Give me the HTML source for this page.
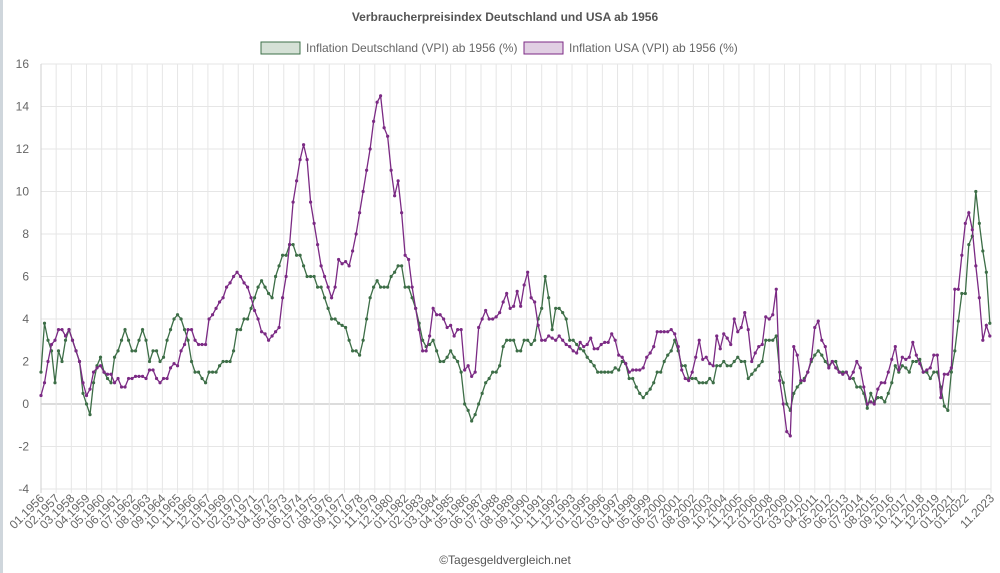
<!DOCTYPE html>
<html><head><meta charset="utf-8"><style>
html,body{margin:0;padding:0;background:#fff;}
svg{display:block;font-family:"Liberation Sans",Arial,sans-serif;}
</style></head><body>
<svg id="chart" width="1000" height="573" viewBox="0 0 1000 573">
<rect x="0" y="0" width="1000" height="573" fill="#fff"/>
<rect x="0" y="0" width="3" height="573" fill="#cfd6dc"/>
<text x="505" y="21" text-anchor="middle" font-size="12" font-weight="bold" fill="#555">Verbraucherpreisindex Deutschland und USA ab 1956</text>
<g>
<g><rect x="261" y="42" width="39" height="12" fill="#d5e1d6" stroke="#3d7048" stroke-width="1"/><text x="306" y="52" font-size="12" fill="#666">Inflation Deutschland (VPI) ab 1956 (%)</text></g>
<g><rect x="524" y="42" width="39" height="12" fill="#e1cfe3" stroke="#7c2a85" stroke-width="1"/><text x="569" y="52" font-size="12" fill="#666">Inflation USA (VPI) ab 1956 (%)</text></g>
</g>
<g id="grid"></g><g id="axes"></g><g id="series"></g>
<text x="505" y="564" text-anchor="middle" font-size="12" fill="#555">©Tagesgeldvergleich.net</text>
</svg>
<script>
// quarterly values, 1956 Q1 .. 2023 Q4
const de = [
1.5,3.8,3.0,2.5, 1.0,2.5,2.0,3.0, 3.5,3.0,2.5,2.0, 0.5,0.0,-0.5,1.0, 1.8,2.2,1.5,1.2,
1.0,2.2,2.5,3.0, 3.5,3.0,2.5,2.5, 3.0,3.5,3.0,2.0, 2.5,2.5,2.0,2.2, 3.0,3.5,4.0,4.2,
4.0,3.5,3.0,2.0, 1.5,1.5,1.2,1.0, 1.5,1.5,1.5,1.8, 2.0,2.0,2.0,2.5, 3.5,3.5,4.0,4.0,
4.5,5.0,5.5,5.8, 5.5,5.2,5.0,6.0, 6.5,7.0,7.0,7.5, 7.5,7.0,7.0,6.5, 6.0,6.0,6.0,5.5,
5.5,5.0,4.5,4.0, 4.0,3.8,3.7,3.6, 3.0,2.5,2.5,2.3, 3.0,4.0,5.0,5.5, 5.8,5.5,5.5,5.5,
6.0,6.2,6.5,6.5, 5.5,5.5,5.0,4.5, 3.8,3.0,2.7,2.8, 3.0,2.5,2.0,2.0, 2.2,2.5,2.2,2.0,
1.5,0.0,-0.3,-0.8, -0.5,0.0,0.5,1.0, 1.2,1.5,1.5,1.8, 2.7,3.0,3.0,3.0, 2.5,2.5,3.0,3.0,
2.8,3.0,4.0,4.5, 6.0,5.0,3.5,4.5, 4.5,4.3,4.0,3.0, 3.0,2.8,2.6,2.5, 2.2,2.0,1.8,1.5,
1.5,1.5,1.5,1.5, 1.7,1.6,2.0,1.9, 1.2,1.2,0.8,0.5, 0.3,0.5,0.7,1.0, 1.5,1.5,2.0,2.3,
2.5,3.0,2.5,1.8, 1.8,1.2,1.2,1.2, 1.0,1.0,1.0,1.2, 1.0,1.8,1.8,2.0, 1.8,1.8,2.0,2.2,
2.0,2.0,1.2,1.4, 1.6,1.8,2.0,3.0, 3.0,3.0,3.2,1.5, 1.0,0.0,-0.3,0.5, 0.8,1.0,1.2,1.5,
2.0,2.3,2.5,2.3, 2.0,1.8,2.0,2.0, 1.5,1.5,1.5,1.2, 1.2,0.8,0.8,0.5, -0.2,0.5,0.1,0.3,
0.3,0.1,0.5,1.0, 1.8,1.5,1.8,1.7, 1.5,2.0,2.0,2.1, 1.5,1.5,1.2,1.5, 1.5,0.8,-0.1,-0.3,
1.5,2.5,3.9,5.2, 5.2,7.5,7.9,10.0, 8.5,7.2,6.2,3.8];
const us = [
0.4,1.0,2.0,2.8, 3.0,3.5,3.5,3.2, 3.5,3.0,2.5,2.0, 1.0,0.4,0.7,1.5, 1.7,1.8,1.5,1.4,
1.4,1.0,1.2,0.8, 0.8,1.2,1.2,1.3, 1.3,1.3,1.2,1.6, 1.6,1.2,1.0,1.2, 1.2,1.7,1.9,1.8,
2.5,2.8,3.5,3.5, 3.0,2.8,2.8,2.8, 4.0,4.2,4.5,4.8, 5.0,5.5,5.7,6.0, 6.2,6.0,5.7,5.5,
5.0,4.4,4.0,3.4, 3.3,3.0,3.2,3.4, 3.6,5.0,6.0,7.5, 9.5,10.5,11.5,12.2, 11.5,9.5,8.5,7.5,
6.5,6.0,5.5,5.0, 5.5,6.8,6.6,6.7, 6.5,7.2,8.0,9.0, 10.0,11.0,12.0,13.3, 14.2,14.5,13.0,12.6,
11.0,9.8,10.5,9.0, 7.0,6.8,5.5,4.5, 3.5,2.5,2.5,3.2, 4.5,4.2,4.2,4.0, 3.6,3.7,3.2,3.5,
3.5,1.6,1.8,1.3, 1.5,3.6,4.0,4.4, 4.0,4.0,4.1,4.3, 4.8,5.2,4.5,4.6, 5.3,4.6,5.6,6.2,
5.0,4.8,3.7,3.0, 3.0,3.2,3.1,3.0, 3.2,3.0,2.8,2.7, 2.5,2.4,2.9,2.7, 2.8,3.1,2.6,2.6,
2.8,2.9,2.9,3.3, 3.0,2.3,2.2,1.9, 1.5,1.6,1.6,1.6, 1.7,2.2,2.4,2.7, 3.4,3.4,3.4,3.4,
3.5,3.3,2.7,1.6, 1.2,1.1,1.5,2.2, 3.0,2.1,2.2,1.9, 1.8,3.2,2.6,3.3, 3.1,2.8,4.0,3.4,
3.6,4.3,3.5,2.0, 2.4,2.7,2.8,4.1, 4.0,4.2,5.4,1.1, 0.0,-1.3,-1.5,2.7, 2.3,1.1,1.1,1.5,
2.1,3.6,3.9,3.0, 2.7,1.7,2.0,1.7, 1.5,1.4,1.5,1.2, 1.5,2.0,1.7,0.8, 0.0,0.1,0.0,0.7,
1.0,1.0,1.5,2.1, 2.7,1.6,2.2,2.1, 2.2,2.9,2.3,1.9, 1.5,1.6,1.7,2.3, 2.3,0.3,1.4,1.4,
1.7,5.4,5.4,7.0, 8.5,9.0,8.2,6.5, 5.0,3.0,3.7,3.2];
const yTicks = [-4,-2,0,2,4,6,8,10,12,14,16];
const xTickLabels = ["01.1956","02.1957","03.1958","04.1959","05.1960","06.1961","07.1962","08.1963","09.1964","10.1965","11.1966","12.1967","01.1969","02.1970","03.1971","04.1972","05.1973","06.1974","07.1975","08.1976","09.1977","10.1978","11.1979","12.1980","01.1982","02.1983","03.1984","04.1985","05.1986","06.1987","07.1988","08.1989","09.1990","10.1991","11.1992","12.1993","01.1995","02.1996","03.1997","04.1998","05.1999","06.2000","07.2001","08.2002","09.2003","10.2004","11.2005","12.2006","01.2008","02.2009","03.2010","04.2011","05.2012","06.2013","07.2014","08.2015","09.2016","10.2017","11.2018","12.2019","01.2021","01.2022","11.2023"];
const xTickMonths = [];
const NS='http://www.w3.org/2000/svg';
const L=41, R=991, T=64, B=489, maxM=814;
function xm(m){return L+m*(R-L)/maxM;}
function yv(v){return B-(v+4)*(B-T)/20;}
xTickLabels.forEach(s=>{const mo=+s.slice(0,2), yr=+s.slice(3);xTickMonths.push((yr-1956)*12+mo-1);});
function mk(tag,attrs,parent){const e=document.createElementNS(NS,tag);for(const k in attrs)e.setAttribute(k,attrs[k]);parent.appendChild(e);return e;}
const grid=document.getElementById('grid'),axes=document.getElementById('axes'),ser=document.getElementById('series');
yTicks.forEach(t=>{
 const ln=mk('line',{x1:L,x2:R,y1:yv(t),y2:yv(t),stroke:t===0?'#c8c8c8':'#e6e6e6','stroke-width':t===0?1.3:1},grid);
 
 
 const tx=mk('text',{x:L-12,y:yv(t)+4,'text-anchor':'end','font-size':12,fill:'#666'},axes);
 tx.textContent=t;
 
 
});
xTickMonths.forEach((m,i)=>{
 const x=xm(m);
 const ln=mk('line',{x1:x,x2:x,y1:T,y2:B+4,stroke:i===0?'#cfcfcf':'#e6e6e6','stroke-width':1},grid);
 
 
 const tx=mk('text',{x:x+4,y:B+10,'text-anchor':'end','font-size':12,fill:'#666',transform:`rotate(-45 ${x+4} ${B+10})`},axes);
 tx.textContent=xTickLabels[i];
 
 
});
function draw(vals,color,name){
 const g=mk('g',{},ser);
 
 
 const pts=vals.map((v,i)=>[xm(Math.min(i*3,maxM)),yv(v)]);
 const p=mk('polyline',{points:pts.map(p=>p.join(',')).join(' '),fill:'none',stroke:color,'stroke-width':1.3},g);
 
 
 pts.forEach(q=>{const c=mk('circle',{cx:q[0],cy:q[1],r:1.6,fill:color},g);
  
  });
}
draw(de,'#3d6e47','series-deutschland');
draw(us,'#7b2a84','series-usa');
</script>
</body></html>
